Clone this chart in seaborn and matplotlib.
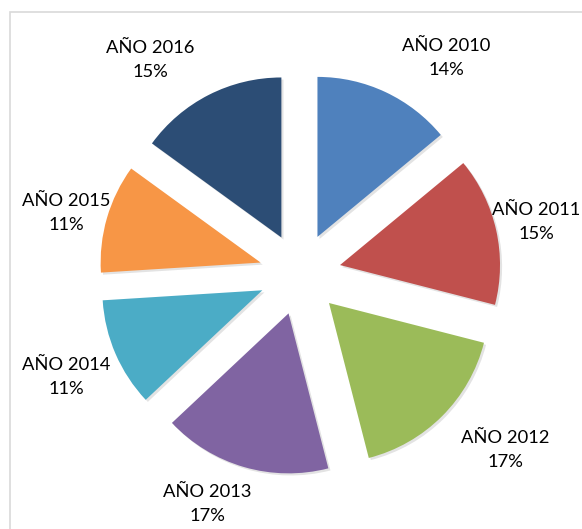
import matplotlib
matplotlib.use("Agg")
import matplotlib.pyplot as plt
import matplotlib.patheffects as pe
from matplotlib.patches import Rectangle
import seaborn as sns

# datos
years = ["AÑO 2010", "AÑO 2011", "AÑO 2012", "AÑO 2013", "AÑO 2014", "AÑO 2015", "AÑO 2016"]
shares = [14, 15, 17, 17, 11, 11, 15]
colors = ["#4F81BD", "#C0504D", "#9BBB59", "#8064A2", "#4BACC6", "#F79646", "#2C4D75"]

# posicion de las etiquetas (pixeles, origen arriba a la izquierda)
label_pos = [(446, 58), (536, 222), (505, 450), (207, 504), (66, 377), (66, 213), (150, 60)]

W, H = 582, 529
sns.set_theme(style="white")
plt.rcParams['font.family'] = ['Lato', 'DejaVu Sans']

fig = plt.figure(figsize=(W / 100, H / 100), dpi=100)
ax = fig.add_axes([0, 0, 1, 1])

# marco gris del area del grafico
ax.add_patch(Rectangle((9.5, -20), W + 20, H - 11.5 + 20, fill=False,
                       edgecolor="#d9d9d9", linewidth=1.2))

# en matplotlib el desplazamiento de explode va en unidades de datos
wedges, _ = ax.pie(shares, colors=colors, startangle=90, counterclock=False,
                   explode=[41] * len(shares), center=(300, H - 274), radius=160,
                   frame=True, wedgeprops=dict(linewidth=0, edgecolor="none"))
for w in wedges:
    w.set_path_effects([pe.SimplePatchShadow(offset=(1.5, -1.5), alpha=0.15, shadow_rgbFace="#444444"),
                        pe.Normal()])
ax.set_xlim(0, W)
ax.set_ylim(0, H)
ax.set_aspect("auto")
ax.axis("off")

for name, val, (x, y) in zip(years, shares, label_pos):
    ax.text(x, H - y, f"{name}\n{val}%", ha="center", va="center",
            fontsize=13.2, color="#000000", linespacing=1.55)

fig.savefig("out.png", dpi=100)
